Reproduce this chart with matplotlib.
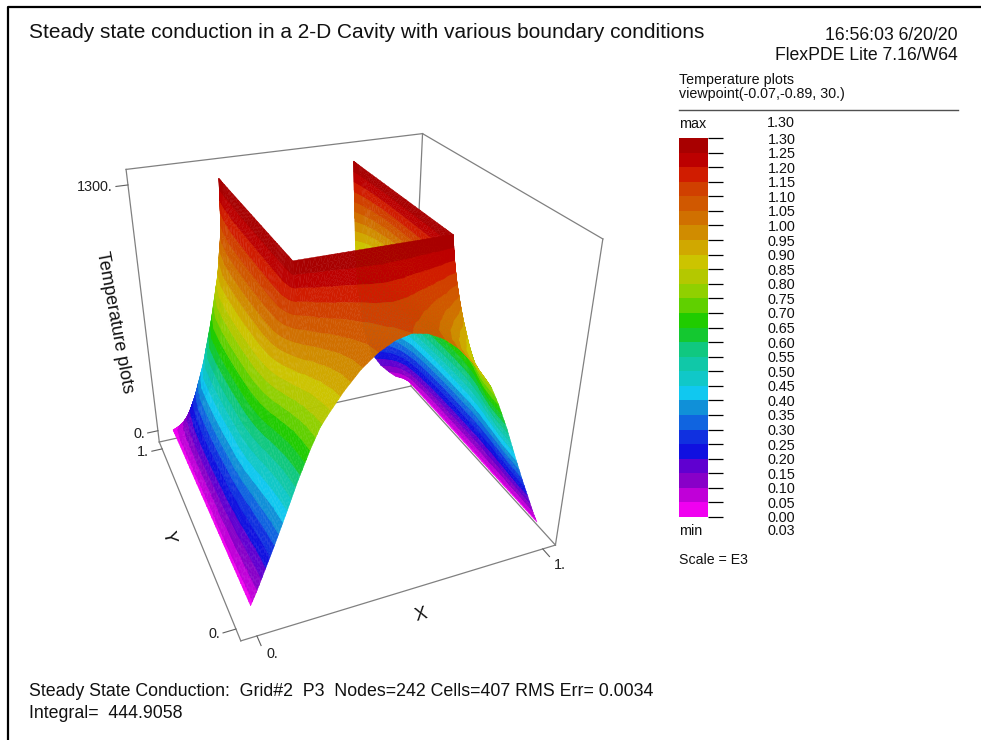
import numpy as np
import matplotlib
matplotlib.use('Agg')
import matplotlib.pyplot as plt
from matplotlib.colors import ListedColormap
from mpl_toolkits.mplot3d.art3d import Poly3DCollection
from mpl_toolkits.mplot3d import proj3d

plt.rcParams['font.family'] = ['Liberation Sans', 'DejaVu Sans']
W, H, S = 981, 740, 700

# colour bands, lowest to highest
band_colors = ['#F000F0','#C000D8','#8800C8','#6000D0','#1010E0','#1030E0','#1064E0','#1090D8','#10C8F0','#10C8C8',
 '#10C8A8','#10C880','#14C830','#20CC00','#60D000','#90D000','#B4C800','#CCC400','#D0A800','#D08C00','#D07000',
 '#D05800','#D04000','#D01C00','#BC0000','#A80000']
levels = np.arange(0, 1301, 50)
bar_labels = ['1.30','1.25','1.20','1.15','1.10','1.05','1.00','0.95','0.90','0.85','0.80','0.75','0.70','0.65',
 '0.60','0.55','0.50','0.45','0.40','0.35','0.30','0.25','0.20','0.15','0.10','0.05','0.00']

# temperature estimates on the left half of the cavity; the right half mirrors it
half_x = [0,.02,.05,.08,.12,.16,.2,.23,.24,.25,.3,.35,.4,.45,.5]
table_y = [0,.05,.1,.15,.2,.22,.25,.28,.3,.35,.4,.5,.6,.7,.8,.9,.95,.97,.98,.99,1]
N = np.nan
half_T = [
 [30, 90,190,290,430,575,705,790,810,830,920,995,1050,1085,1100],
 [30, 95,190,300,440,585,715,800,820,845,930,1005,1060,1095,1110],
 [30,100,200,310,455,600,735,825,845,870,960,1040,1090,1120,1130],
 [30,100,210,330,480,635,780,875,900,925,1025,1095,1140,1165,1175],
 [30,110,220,345,510,680,850,970,1000,1030,1140,1190,1210,1225,1235],
 [30,110,230,355,530,710,890,1020,1070,1100,1200,1230,1250,1255,1260],
 [30,110,240,365,550,740,940,1120,1200,1300,1300,1300,1300,1300,1300],
 [30,110,240,385,570,770,980,1170,1230,1300,N,N,N,N,N],
 [30,110,250,385,580,780,1000,1180,1240,1300,N,N,N,N,N],
 [30,120,260,405,600,810,1020,1190,1240,1300,N,N,N,N,N],
 [30,120,260,405,610,820,1030,1190,1250,1300,N,N,N,N,N],
 [30,120,270,415,620,830,1040,1190,1250,1300,N,N,N,N,N],
 [30,120,270,415,620,830,1040,1190,1250,1300,N,N,N,N,N],
 [30,120,260,405,610,820,1030,1190,1250,1300,N,N,N,N,N],
 [30,110,240,385,580,790,1010,1180,1240,1300,N,N,N,N,N],
 [30, 90,190,295,460,670,920,1140,1220,1300,N,N,N,N,N],
 [30, 70,130,215,340,510,780,1070,1180,1300,N,N,N,N,N],
 [30, 60,110,165,270,420,660,990,1140,1300,N,N,N,N,N],
 [30, 50, 90,145,230,360,590,920,1100,1300,N,N,N,N,N],
 [30, 50, 80,115,190,300,490,820,1020,1300,N,N,N,N,N],
 [30, 40, 60, 95,150,230,390,660,870,1300,N,N,N,N,N],
]
z_ticks = [(0,'0.'),(1300,'1300.')]
y_ticks = [(0,'0.'),(1,'1.')]
x_ticks = [(0,'0.'),(1,'1.')]

half_T = np.array(half_T, float)
xs = np.array(half_x + [round(1-v,3) for v in half_x[-2::-1]])
ys = np.array(table_y)
tab = np.hstack([half_T, half_T[:,-2::-1]])

fig = plt.figure(figsize=(W/100, H/100), dpi=100)
ov = fig.add_axes([0,0,1,1]); ov.set_xlim(0,W); ov.set_ylim(H,0); ov.axis('off')
L, Tp = -17.4439, 17.8203
ax = fig.add_axes([L/W,(H-Tp-S)/H,S/W,S/H], projection='3d', computed_zorder=False)
ax.patch.set_alpha(0)
ax.view_init(elev=29.9887, azim=-112.4195, roll=-0.0473)
ax.set_box_aspect((1,.9983,1.0038), zoom=.7913)
ax.set_proj_type('persp', focal_length=.2398)
xlim=(-.05,1.05); ylim=(-.05,1.05); zlim=(-70,1370)
ax.set_xlim(xlim); ax.set_ylim(ylim); ax.set_zlim(zlim)

def refine(a,k):
    return np.interp(np.arange((len(a)-1)*k+1)/k, np.arange(len(a)), a)
k = 3
xf = refine(xs,k); yf = refine(ys,k)
t1 = np.array([np.interp(xf,xs,r) for r in tab])
t2 = np.array([np.interp(yf,ys,t1[:,j]) for j in range(len(xf))]).T

def clip(poly,lo,hi):
    for bound,sgn in ((lo,1),(hi,-1)):
        out=[]; m=len(poly)
        for i in range(m):
            a,b=poly[i],poly[(i+1)%m]
            da,db=sgn*(a[2]-bound),sgn*(b[2]-bound)
            if da>=0: out.append(a)
            if (da>=0)!=(db>=0):
                out.append(a+(b-a)*da/(da-db))
        poly=out
        if len(poly)<3: return []
    return poly

verts=[]; cols=[]
for i in range(len(yf)-1):
    for j in range(len(xf)-1):
        c=np.array([(xf[j],yf[i],t2[i,j]),(xf[j+1],yf[i],t2[i,j+1]),(xf[j+1],yf[i+1],t2[i+1,j+1]),(xf[j],yf[i+1],t2[i+1,j])])
        if np.isnan(c).any(): continue
        for tri in (c[[0,1,2]],c[[0,2,3]]):
            lo=max(np.digitize(tri[:,2].min(),levels)-1,0); hi=min(np.digitize(tri[:,2].max(),levels)-1,25)
            for b in range(lo,hi+1):
                pl=clip(list(tri),levels[b],levels[b+1])
                if pl:
                    verts.append(np.array(pl)); cols.append(band_colors[b])
ax.add_collection3d(Poly3DCollection(verts,facecolors=cols,edgecolors=cols,linewidths=.3,zsort='average',zorder=2))
ax.set_xlim(xlim); ax.set_ylim(ylim); ax.set_zlim(zlim)
ax.set_axis_off()

corner=lambda a,b,c:(xlim[a],ylim[b],zlim[c])
for e in [((0,1,0),(1,1,0)),((1,1,0),(1,0,0)),((1,0,0),(0,0,0)),((0,0,0),(0,1,0)),((0,1,0),(0,1,1)),
          ((1,1,0),(1,1,1)),((1,0,0),(1,0,1)),((0,1,1),(1,1,1)),((1,1,1),(1,0,1))]:
    a,b=corner(*e[0]),corner(*e[1])
    ax.plot([a[0],b[0]],[a[1],b[1]],[a[2],b[2]],color='#808080',lw=.9,zorder=1)
tk=dict(color='#606060',lw=.8,zorder=1)
M=ax.get_proj()
def lab3(xx,yy,zz,s,**kw):
    a,b,_=proj3d.proj_transform(xx,yy,zz,M)
    ax.text2D(a,b,s,transform=ax.transData,fontsize=10.4,color='#202020',**kw)
for z,s in z_ticks:
    ax.plot([xlim[0],xlim[0]-.04],[ylim[1]]*2,[z,z],**tk)
    lab3(xlim[0]-.05,ylim[1],z,s,ha='right',va='center')
for yy,s in y_ticks:
    ax.plot([xlim[0],xlim[0]-.04],[yy,yy],[zlim[0]]*2,**tk)
    lab3(xlim[0]-.05,yy,zlim[0],s,ha='right',va='center')
for xx,s in x_ticks:
    ax.plot([xx,xx],[ylim[0],ylim[0]-.04],[zlim[0]]*2,**tk)
    lab3(xx+.012,ylim[0]-.05,zlim[0],s,ha='left',va='top')

ov.plot([7.5,7.5,981],[740,6.5,6.5],color='k',lw=1.6,clip_on=False)
tc='#111111'
ov.text(29,32,'Steady state conduction in a 2-D Cavity with various boundary conditions',fontsize=15.0,va='center',color=tc)
ov.text(958,35,'16:56:03 6/20/20',fontsize=12.7,ha='right',va='center',color=tc)
ov.text(958,55,'FlexPDE Lite 7.16/W64',fontsize=12.7,ha='right',va='center',color=tc)
ov.text(679,80,'Temperature plots',fontsize=10.3,va='center',color=tc)
ov.text(679,94,'viewpoint(-0.07,-0.89, 30.)',fontsize=10.3,va='center',color=tc)
ov.plot([679,958],[110,110],color='#505050',lw=1)
ov.text(679,124,'max',fontsize=10.4,va='center',color=tc); ov.text(767,123,'1.30',fontsize=10.4,va='center',color=tc)
ov.text(679,531,'min',fontsize=10.4,va='center',color=tc); ov.text(767,531,'0.03',fontsize=10.4,va='center',color=tc)
ov.text(679,560,'Scale = E3',fontsize=10.2,va='center',color=tc)
ov.text(29,692,'Steady State Conduction:  Grid#2  P3  Nodes=242 Cells=407 RMS Err= 0.0034',fontsize=12.75,va='center',color=tc)
ov.text(29,713,'Integral=  444.9058',fontsize=12.75,va='center',color=tc)
ov.text(114,322,'Temperature plots',fontsize=13,rotation=-79.5,ha='center',va='center',color=tc)
ov.text(168,537,'Y',fontsize=13,rotation=-78,ha='center',va='center',color=tc)
ov.text(421,615,'X',fontsize=13,rotation=16,ha='center',va='center',color=tc)

cb = fig.add_axes([679/W,(H-517)/H,29/W,379/H])
cb.pcolormesh([0,1],levels/1000,np.arange(26).reshape(-1,1),cmap=ListedColormap(band_colors),vmin=0,vmax=25)
cb.set_xticks([]); cb.yaxis.tick_right()
cb.set_yticks(levels[::-1]/1000,bar_labels)
cb.tick_params(axis='y',length=10.8,width=.9,pad=32,labelsize=10.4,labelcolor=tc)
for s in cb.spines.values(): s.set_visible(False)
fig.savefig('out.png',dpi=100)
